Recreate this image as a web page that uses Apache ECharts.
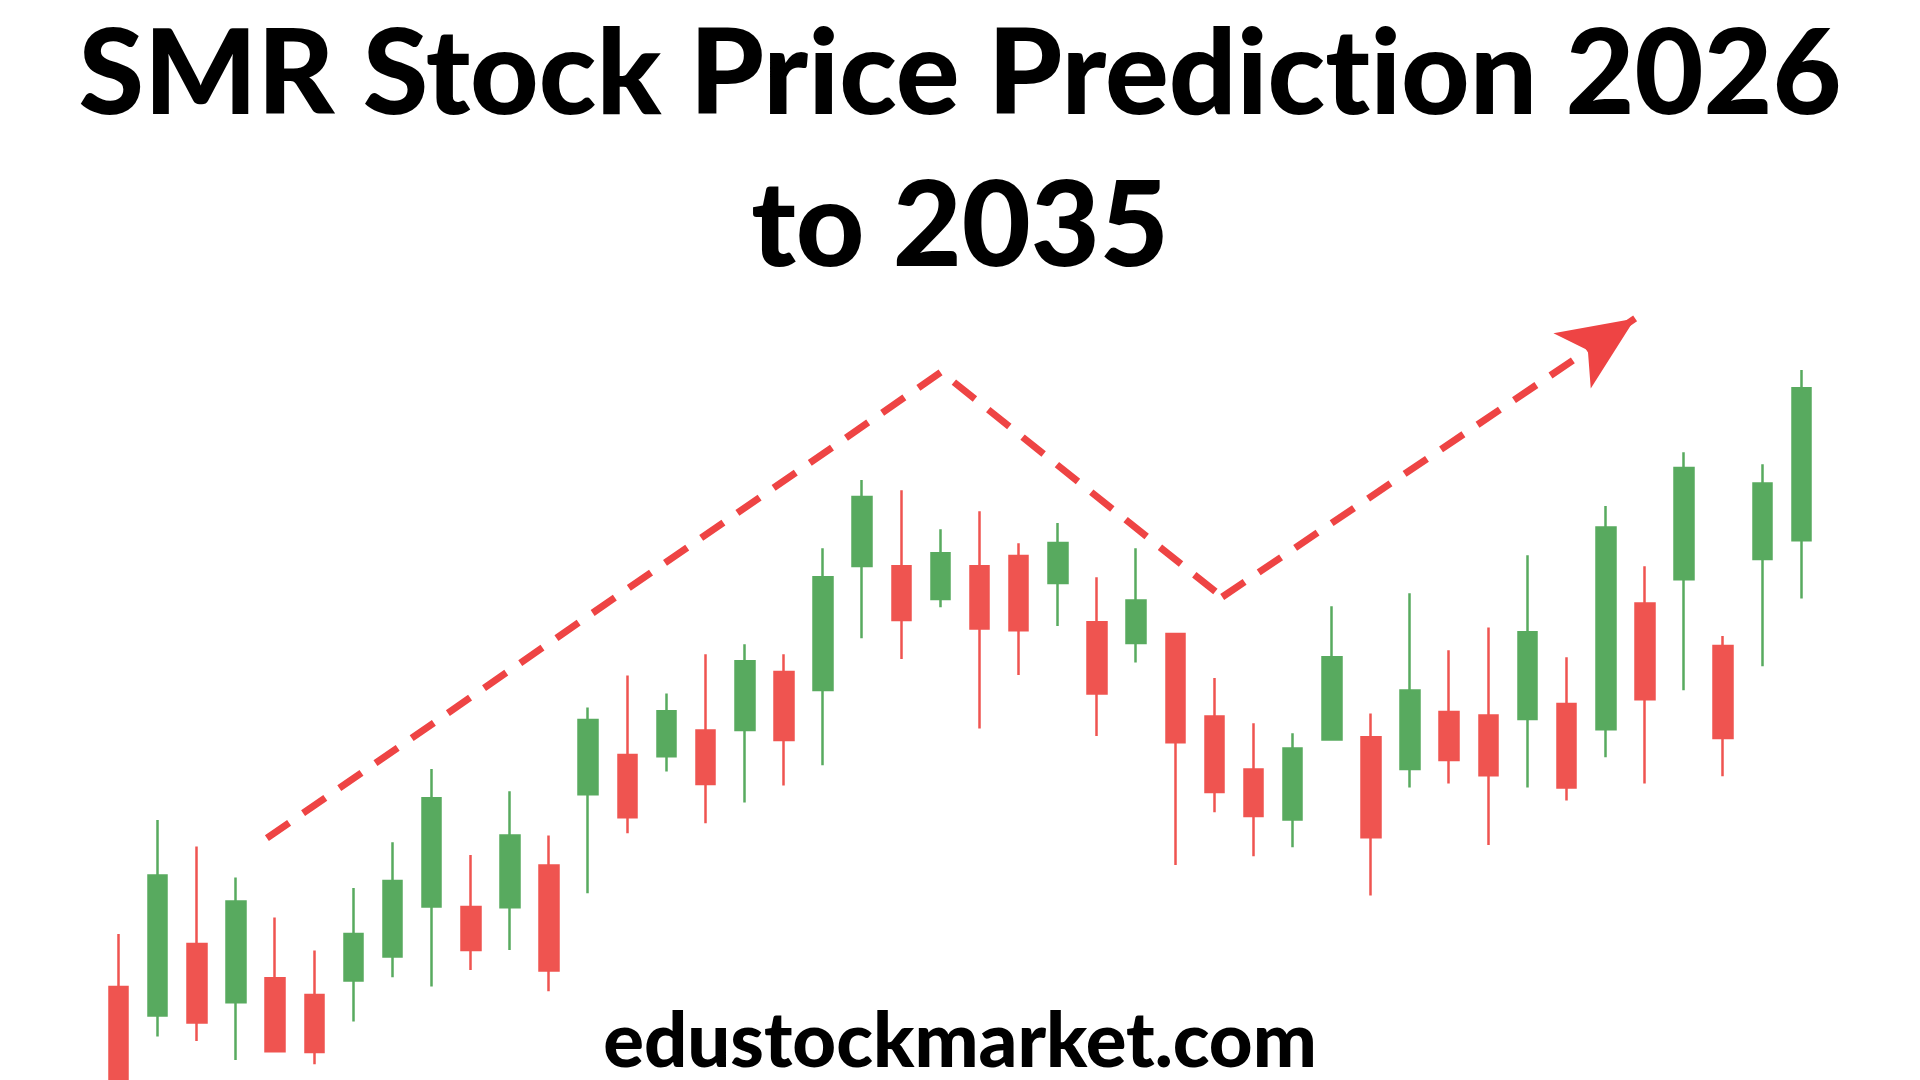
<!DOCTYPE html>
<html>
<head>
<meta charset="utf-8">
<script src="https://cdn.jsdelivr.net/npm/echarts@6/dist/echarts.min.js"></script>
<style>
  html, body { margin: 0; padding: 0; background: #ffffff; }
  #chart { width: 1920px; height: 1080px; }
</style>
</head>
<body>
<div id="chart"></div>
<script>
// \u200C (zero-width non-joiner) only stops the font from fusing "t" and "i" into a ligature
const titleText = 'SMR Stock Price Predict\u200Cion 2026\nto 2035';
const footerText = 'edustockmarket.com';

const categories = ['1','2','3','4','5','6','7','8','9','10','11','12','13','14','15','16','17','18','19','20','21','22',
  '23','24','25','26','27','28','29','30','31','32','33','34','35','36','37','38','39','40','41','42','43','44'];

const opens  = [9.65, 8.22, 11.8, 8.89, 10.09, 9.25, 9.97, 11.17, 13.67, 13.65, 13.64, 15.72, 19.29, 21.25, 21.19,
  22.47, 22.5, 25.4, 24.5, 30.7, 30.69, 29.05, 30.69, 31.2, 29.85, 27.89, 26.85, 27.3, 23.17, 20.52, 18.02,
  22.02, 22.14, 20.55, 23.4, 23.22, 23.05, 23.8, 22.54, 28.82, 30.04, 26.7, 31.05, 31.99];
const closes = [3.5, 15.22, 7.87, 13.92, 6.44, 6.4, 12.3, 14.95, 19.09, 11.5, 17.22, 10.48, 23.0, 18.14, 23.44,
  19.8, 25.94, 22.0, 30.14, 34.15, 28.0, 31.34, 27.57, 27.49, 31.85, 24.32, 28.97, 21.89, 19.4, 18.2, 21.57,
  26.14, 17.14, 24.47, 21.0, 20.24, 27.39, 19.62, 32.62, 24.04, 35.6, 22.1, 34.82, 39.59];
const lows   = [3.0, 7.17, 6.95, 6.0, 6.44, 5.79, 7.92, 10.14, 9.67, 10.5, 11.5, 9.44, 14.34, 17.34, 20.42,
  17.84, 18.87, 19.72, 20.74, 27.09, 26.05, 28.64, 22.57, 25.25, 27.7, 22.2, 25.87, 15.75, 18.39, 16.19, 16.64,
  22.02, 14.22, 19.62, 19.82, 16.75, 19.63, 18.97, 21.14, 19.82, 24.49, 20.19, 25.69, 29.07];
const highs  = [12.3, 18.0, 16.67, 15.12, 13.12, 11.47, 14.6, 16.89, 20.55, 16.25, 19.44, 17.22, 23.62, 25.22, 24.32,
  26.29, 26.79, 26.29, 31.59, 35.0, 34.49, 32.54, 33.44, 31.84, 32.85, 30.14, 31.59, 27.3, 25.1, 22.84, 22.34,
  28.69, 23.32, 29.34, 26.49, 27.62, 31.24, 26.14, 33.7, 30.69, 36.39, 27.2, 35.79, 40.5];

// trend arrow (x in category-index units, y in price units); last point is the arrow tip
const trendX = [3.79, 21.02, 28.2, 38.75];
const trendY = [17.09, 40.4, 29.15, 43.08];

const GREEN = '#58AA5F';
const RED = '#EF5450';
const TREND = '#EE4444';

const candleData = categories.map((c, i) => [opens[i], closes[i], lows[i], highs[i]]);
const trendPts = trendX.map((x, i) => [x, trendY[i]]);
const dashed = { color: TREND, width: 7, type: [27, 17], cap: 'butt' };

const chart = echarts.init(document.getElementById('chart'), null, { renderer: 'canvas' });
chart.setOption({
  backgroundColor: '#ffffff',
  animation: false,
  title: [
    {
      text: titleText,
      left: 'center',
      top: 0,
      padding: 0,
      textStyle: {
        fontFamily: 'Lato',
        fontWeight: 900,
        fontSize: 119,
        lineHeight: 152,
        color: '#000000'
      }
    },
    {
      text: footerText,
      left: 'center',
      top: 1004,
      padding: 0,
      textStyle: {
        fontFamily: 'Lato',
        fontWeight: 900,
        fontSize: 76,
        lineHeight: 76,
        color: '#000000'
      }
    }
  ],
  grid: { left: 99, right: 99, top: 80, bottom: 0, outerBoundsMode: 'none' },
  xAxis: [
    { type: 'category', data: categories, show: false, boundaryGap: true },
    { type: 'value', min: -0.5, max: 43.5, show: false }
  ],
  yAxis: { type: 'value', min: 5, max: 55, show: false, splitLine: { show: false } },
  series: [
    {
      type: 'candlestick',
      data: candleData,
      barWidth: 19,
      itemStyle: {
        color: GREEN,
        color0: RED,
        borderColor: GREEN,
        borderColor0: RED,
        borderWidth: 2.5
      },
      z: 2
    },
    {
      type: 'line',
      xAxisIndex: 1,
      data: trendPts.slice(0, 3),
      symbol: 'none',
      silent: true,
      lineStyle: dashed,
      z: 3,
      markLine: {
        silent: true,
        animation: false,
        symbol: ['none', 'arrow'],
        symbolSize: [50, 76],
        label: { show: false },
        lineStyle: dashed,
        emphasis: { disabled: true },
        data: [[
          { coord: trendPts[2] },
          { coord: trendPts[3] }
        ]]
      }
    }
  ]
});
</script>
</body>
</html>
